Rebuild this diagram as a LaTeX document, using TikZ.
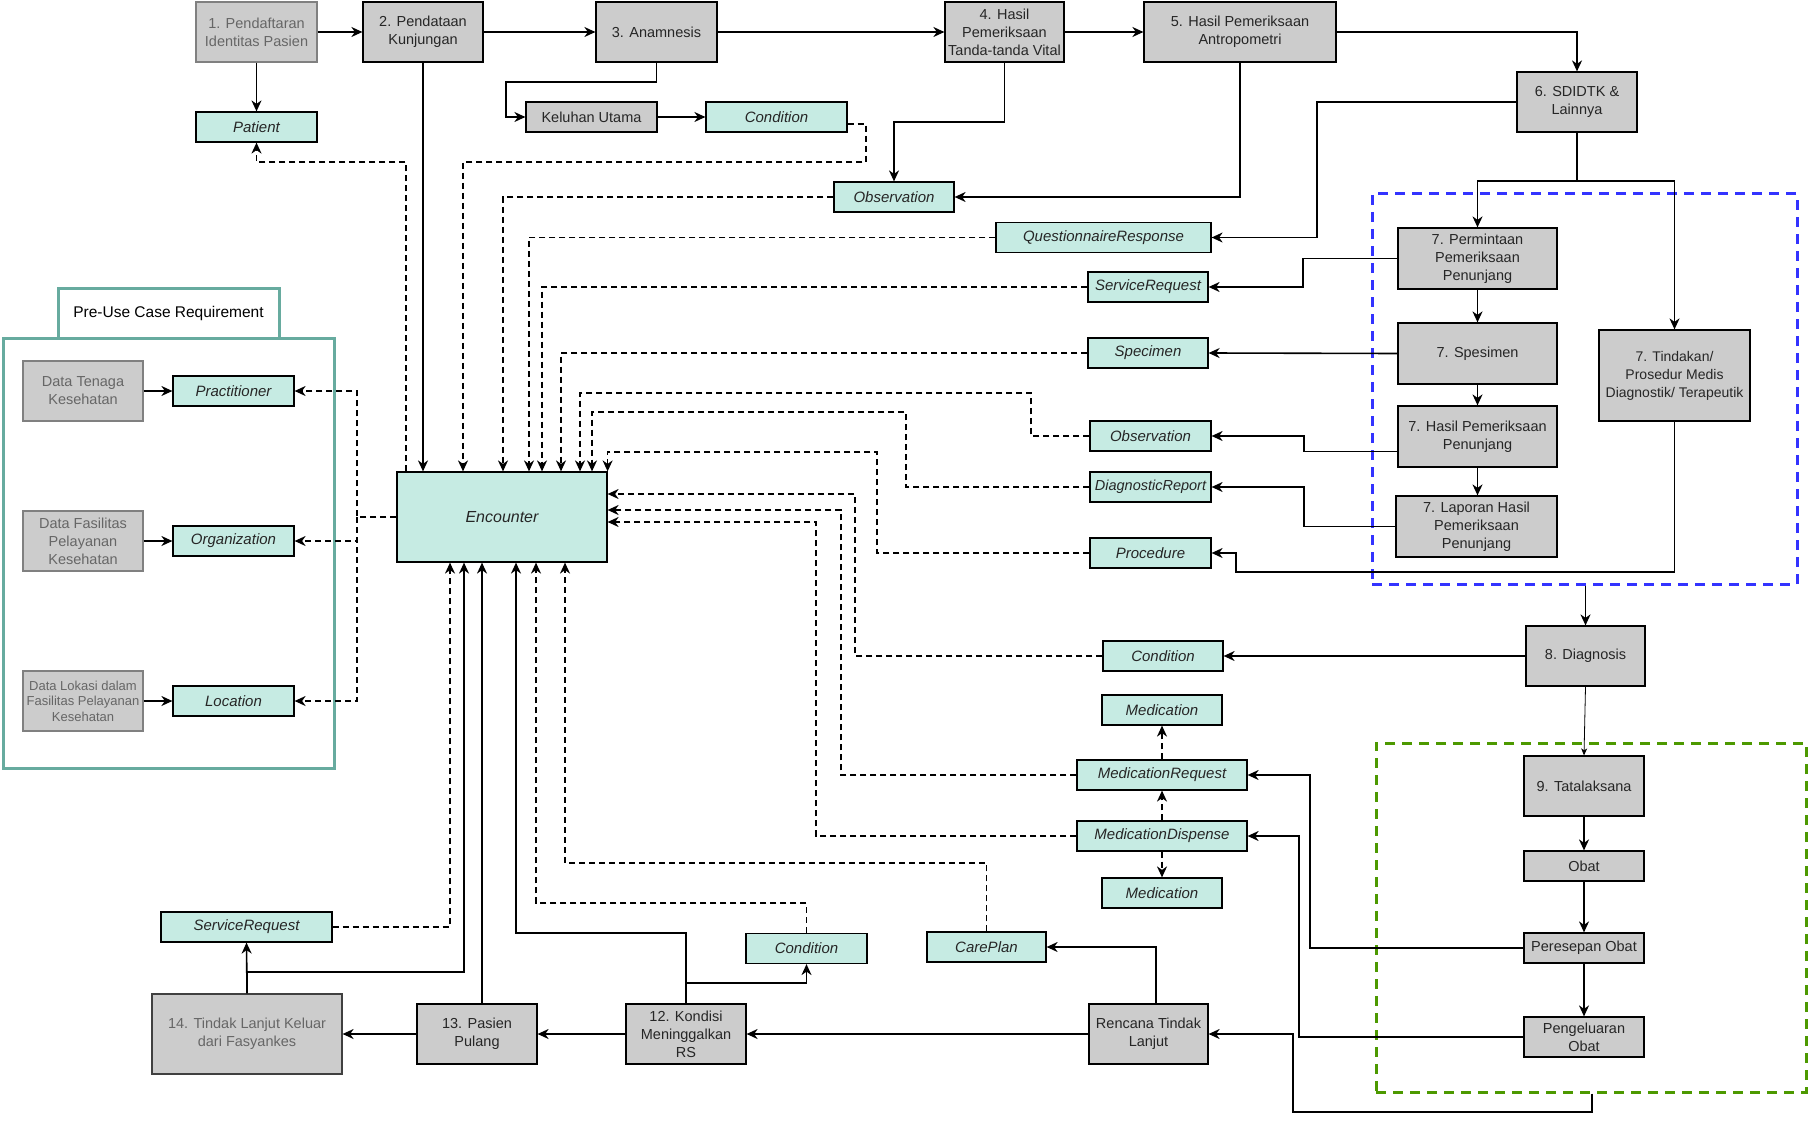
\documentclass[tikz,border=0pt]{standalone}
\usepackage{fontspec}
\setmainfont{Liberation Sans}
\usepackage{tikz}
\usetikzlibrary{arrows.meta,positioning}
\definecolor{procgray}{HTML}{CCCCCC}
\definecolor{restea}{HTML}{C6EBE3}
\definecolor{preteal}{HTML}{67AB9F}
\definecolor{grpblue}{HTML}{3333FF}
\definecolor{grpgreen}{HTML}{4D9900}
\tikzset{
  proc box/.style  = {draw, fill=procgray, line width=1.2pt, align=center, text=black!85,
                      inner sep=1pt, minimum width=120pt, minimum height=60pt,
                      font=\fontsize{14.5}{18}\selectfont},
  faded box/.style = {proc box, draw=black!50, text=black!60},
  res box/.style   = {draw, fill=restea, line width=1.2pt, align=center, text=black!85,
                      inner sep=1pt, minimum width=120pt, minimum height=30pt,
                      font=\fontsize{15}{18}\selectfont\itshape},
  flow line/.style = {-{Stealth[length=11pt,width=10pt,inset=3.5pt]}, line width=1.6pt},
  ref line/.style  = {flow line, dash pattern=on 6pt off 4pt},
  group box/.style = {line width=3pt, dash pattern=on 10pt off 7pt},
}

\begin{document}
\begin{tikzpicture}[x=1pt, y=-1pt]
  \useasboundingbox (0,0) rectangle (1810,1126);

  %grouping boxes first, they stay behind
  \node[draw=preteal, line width=3pt, minimum width=331pt, minimum height=430pt] (preuse box) at (168.5,553) {};
  \node[draw=preteal, line width=3pt, minimum width=221pt, minimum height=50pt, fill=white,
        font=\fontsize{15.5}{18}\selectfont] (preuse tab) at (168.5,313) {Pre-Use Case Requirement};
  \node[group box, draw=grpblue, minimum width=425pt, minimum height=390pt] (penunjang box) at (1584.5,389) {};
  \node[group box, draw=grpgreen, minimum width=430pt, minimum height=349pt] (tata box) at (1591,917.5) {};

  % top row
  \node[faded box, minimum width=121pt] (n1) at (256.5,32) {1. Pendaftaran\\Identitas Pasien};
  \node[proc box] (n2) at (423,32) {2. Pendataan\\Kunjungan};
  \node[proc box, minimum width=121pt] (n3) at (656.5,32) {3. Anamnesis};
  \node[proc box, minimum width=119pt] (n4) at (1004.5,32) {4. Hasil\\Pemeriksaan\\Tanda-tanda Vital};
  \node[proc box, minimum width=192pt] (n5) at (1240,32) {5. Hasil Pemeriksaan\\Antropometri};
  \node[proc box] (n6) at (1577,102) {6. SDIDTK \&\\Lainnya};

  \node[res box, minimum width=121pt] (patient) at (256.5,127) {Patient};
  \node[proc box, minimum width=131pt, minimum height=30pt] (keluhan) at (591.5,117) {Keluhan Utama};
  \node[res box, minimum width=141pt] (cond1) at (776.5,117) {Condition};
  \node[res box] (obs1) at (894,197) {Observation};
  \node[res box, minimum width=215pt] (qr) at (1103.5,237.5) {QuestionnaireResponse};
  \node[res box] (sr1) at (1148,287) {ServiceRequest};
  \node[res box] (spec) at (1148,353) {Specimen};
  \node[res box, minimum width=121pt] (obs2) at (1150.5,436) {Observation};
  \node[res box, minimum width=121pt, font=\fontsize{14.5}{18}\selectfont\itshape] (dr) at (1150.5,487) {DiagnosticReport};
  \node[res box, minimum width=121pt] (proc) at (1150.5,553) {Procedure};

  % step 7
  \node[proc box, minimum width=159pt, minimum height=61pt] (n7a) at (1477.5,258.5) {7. Permintaan\\Pemeriksaan\\Penunjang};
  \node[proc box, minimum width=159pt, minimum height=61pt] (n7b) at (1477.5,353.5) {7. Spesimen};
  \node[proc box, minimum width=159pt, minimum height=61pt] (n7c) at (1477.5,436.5) {7. Hasil Pemeriksaan\\Penunjang};
  \node[proc box, minimum width=161pt, minimum height=61pt] (n7e) at (1476.5,526.5) {7. Laporan Hasil\\Pemeriksaan\\Penunjang};
  \node[proc box, minimum width=151pt, minimum height=91pt, font=\fontsize{14}{18}\selectfont] (n7d) at (1674.5,375.5) {7. Tindakan/\\Prosedur Medis\\Diagnostik/ Terapeutik};

  \node[res box, minimum width=210pt, minimum height=90pt, font=\fontsize{16}{19}\selectfont\itshape] (enc) at (502,517) {Encounter};

  % pre-use requirement
  \node[faded box] (data tenaga) at (83,391) {Data Tenaga\\Kesehatan};
  \node[faded box] (data fasilitas) at (83,541) {Data Fasilitas\\Pelayanan\\Kesehatan};
  \node[faded box, font=\fontsize{13}{15.5}\selectfont] (data lokasi) at (83,701) {Data Lokasi dalam\\Fasilitas Pelayanan\\Kesehatan};
  \node[res box, minimum width=121pt] (practitioner) at (233.5,391) {Practitioner};
  \node[res box, minimum width=121pt] (organization) at (233.5,541) {Organization};
  \node[res box, minimum width=121pt] (location) at (233.5,701) {Location};

  % diagnosis and treatment
  \node[proc box, minimum width=119pt] (n8) at (1585.5,656) {8. Diagnosis};
  \node[res box] (cond2) at (1163,656) {Condition};
  \node[res box] (med1) at (1162,710) {Medication};
  \node[res box, minimum width=170pt] (medreq) at (1162,775) {MedicationRequest};
  \node[res box, minimum width=170pt] (meddisp) at (1162,836) {MedicationDispense};
  \node[res box] (med2) at (1162,893) {Medication};
  \node[proc box] (n9) at (1584,786) {9. Tatalaksana};
  \node[proc box, minimum height=30pt] (obat) at (1584,866) {Obat};
  \node[proc box, minimum height=30pt] (peresepan) at (1584,948) {Peresepan Obat};
  \node[proc box, minimum height=40pt] (pengeluaran) at (1584,1037) {Pengeluaran\\Obat};

  % bottom row
  \node[proc box, minimum width=119pt] (rencana) at (1148.5,1034) {Rencana Tindak\\Lanjut};
  \node[res box, minimum width=119pt] (careplan) at (986.5,947) {CarePlan};
  \node[res box, minimum width=121pt] (cond3) at (806.5,948.5) {Condition};
  \node[proc box] (n12) at (686,1034) {12. Kondisi\\Meninggalkan\\RS};
  \node[proc box] (n13) at (477,1034) {13. Pasien\\Pulang};
  \node[proc box, draw=black!75, text=black!60, minimum width=190pt, minimum height=80pt] (n14) at (247,1034) {14. Tindak Lanjut Keluar\\dari Fasyankes};
  \node[res box, minimum width=171pt] (sr2) at (246.5,927) {ServiceRequest};

  \coordinate (split6) at (1577,181);
  \coordinate (presplit) at (357,517);

  % process flow
  \draw[flow line] (n1.east) -- (n2.west);
  \draw[flow line] (n2.east) -- (n3.west);
  \draw[flow line] (n3.east) -- (n4.west);
  \draw[flow line] (n4.east) -- (n5.west);
  \draw[flow line] (n1.south) -- (patient.north);
  \draw[flow line] (n2.south) -- (n2.south |- enc.north);
  \draw[flow line] (n3.south) -- (656.5,82) -| (506,117) -- (keluhan.west);
  \draw[flow line] (keluhan.east) -- (cond1.west);
  \draw[flow line] (n4.south) -- (1004.5,122) -| (obs1.north);
  \draw[flow line] (n5.south) |- (obs1.east);
  \draw[flow line] (n5.east) -| (n6.north);
  \draw[flow line] (n6.west) -- (1317,102) |- (qr.east);
  \draw[flow line] (n6.south) -- (split6) -| (n7a.north);
  \draw[flow line] (split6) -| (n7d.north);
  \draw[flow line] (n7a.south) -- (n7b.north);
  \draw[flow line] (n7b.south) -- (n7c.north);
  \draw[flow line] (n7c.south) -- (n7c.south |- n7e.north);
  \draw[flow line] (n7a.west) -- (1303,258.5) |- (sr1.east);
  \draw[flow line] (n7b.west) -- (spec.east);
  \draw[flow line] ([yshift=-15pt]n7c.west) -- (1304,451.5) |- (obs2.east);
  \draw[flow line] (n7e.west) -- (1304,526.5) |- (dr.east);
  \draw[flow line] (n7d.south) |- (1236,572) |- (proc.east);
  \draw[flow line] (penunjang box.south -| n8.north) -- (n8.north);
  \draw[flow line] (n8.west) -- (cond2.east);
  \draw[-{Stealth[length=7pt,width=6pt,inset=2pt]}, line width=0.8pt] (n8.south) -- (n9.north);
  \draw[flow line] (n9.south) -- (obat.north);
  \draw[flow line] (obat.south) -- (peresepan.north);
  \draw[flow line] (peresepan.south) -- (pengeluaran.north);
  \draw[flow line] (peresepan.west) -- (1310,948) |- (medreq.east);
  \draw[flow line] (pengeluaran.west) -- (1299,1037) |- (meddisp.east);
  \draw[flow line] ([xshift=1pt]tata box.south) -- (1592,1112) -| (1293,1034) -- (rencana.east);
  \draw[flow line] ([xshift=7.5pt]rencana.north) |- (careplan.east);
  \draw[flow line] (rencana.west) -- (n12.east);
  \draw[flow line] (n12.west) -- (n13.east);
  \draw[flow line] (n13.west) -- (n14.east);
  \draw[flow line] (n12.north) -- (686,983) -| (cond3.south);
  \draw[flow line] (n12.north) -- (686,933) -| ([xshift=14pt]enc.south);
  \draw[flow line] ([xshift=5pt]n13.north) -- ([xshift=-20pt]enc.south);
  \draw[flow line] (n14.north) -- (sr2.south);
  \draw[flow line] (n14.north) -- (247,972) -| ([xshift=-38pt]enc.south);
  \draw[flow line] (data tenaga.east) -- (practitioner.west);
  \draw[flow line] (data fasilitas.east) -- (organization.west);
  \draw[flow line] (data lokasi.east) -- (location.west);

  % references to the encounter
  \draw[ref line] ([xshift=-96pt]enc.north) -- (406,162) -| (patient.south);
  \draw[ref line] ([yshift=-7pt]cond1.east) -- (866,124) -- (866,162) -| ([xshift=-39pt]enc.north);
  \draw[ref line] (obs1.west) -| ([xshift=1pt]enc.north);
  \draw[ref line] (qr.west) -| ([xshift=27pt]enc.north);
  \draw[ref line] (sr1.west) -| ([xshift=40pt]enc.north);
  \draw[ref line] (spec.west) -| ([xshift=59pt]enc.north);
  \draw[ref line] (obs2.west) -- (1031,436) -- (1031,393) -| ([xshift=78pt]enc.north);
  \draw[ref line] (dr.west) -- (906,487) -- (906,412) -| ([xshift=90pt]enc.north);
  \draw[ref line] (proc.west) -- (877,553) -- (877,452) -| (enc.north east);
  \draw[ref line] (cond2.west) -- (855,656) |- ([yshift=23pt]enc.east);
  \draw[ref line] (medreq.west) -- (841,775) |- ([yshift=7pt]enc.east);
  \draw[ref line] (meddisp.west) -- (816,836) |- ([yshift=-5pt]enc.east);
  \draw[ref line] (careplan.north) |- (565,863) -- ([xshift=63pt]enc.south);
  \draw[ref line] (cond3.north) |- (536,903) -- ([xshift=34pt]enc.south);
  \draw[ref line] (sr2.east) -| ([xshift=-52pt]enc.south);
  \draw[ref line] (medreq.north) -- (med1.south);
  \draw[ref line] (meddisp.north) -- (medreq.south);
  \draw[ref line] (meddisp.south) -- (med2.north);
  \draw[ref line] (enc.west) -- (presplit) |- (practitioner.east);
  \draw[ref line] (presplit) |- (organization.east);
  \draw[ref line] (presplit) |- (location.east);
\end{tikzpicture}
\end{document}
